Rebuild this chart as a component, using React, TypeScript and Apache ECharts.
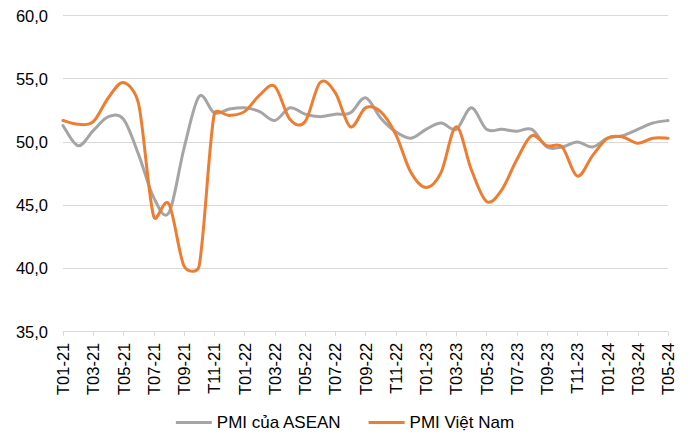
import React, { useEffect, useRef } from "react";
import * as echarts from "echarts";

const categories = [
  "T01-21","T02-21","T03-21","T04-21","T05-21","T06-21","T07-21","T08-21","T09-21","T10-21","T11-21","T12-21",
  "T01-22","T02-22","T03-22","T04-22","T05-22","T06-22","T07-22","T08-22","T09-22","T10-22","T11-22","T12-22",
  "T01-23","T02-23","T03-23","T04-23","T05-23","T06-23","T07-23","T08-23","T09-23","T10-23","T11-23","T12-23",
  "T01-24","T02-24","T03-24","T04-24","T05-24",
];

const aseanPMI = [
  51.3, 49.7, 50.9, 52.0, 51.8, 49.0, 45.6, 44.4, 49.5, 53.6, 52.3, 52.6,
  52.7, 52.4, 51.7, 52.7, 52.2, 52.0, 52.2, 52.3, 53.5, 51.9, 50.8, 50.3,
  51.0, 51.5, 51.0, 52.7, 51.0, 51.0, 50.85, 51.0, 49.6, 49.6, 50.0, 49.6,
  50.3, 50.5, 51.0, 51.5, 51.7,
];

const vietnamPMI = [
  51.7, 51.4, 51.6, 53.5, 54.7, 53.0, 44.1, 45.1, 40.2, 40.2, 52.2, 52.1,
  52.4, 53.7, 54.4, 51.8, 51.6, 54.7, 53.9, 51.2, 52.7, 52.4, 50.6, 47.6,
  46.4, 47.6, 51.2, 47.8, 45.3, 46.2, 48.6, 50.5, 49.7, 49.6, 47.3, 48.9,
  50.3, 50.4, 49.9, 50.3, 50.3,
];

const seriesNames = ["PMI của ASEAN", "PMI Việt Nam"];
const seriesColors = ["#A5A5A5", "#ED7D31"];

const FONT = "'Liberation Sans', Arial, sans-serif";

// Excel-like smoothing: Catmull-Rom handles (1/6 of neighbour chord),
// capped at half the segment length.
function handle(a: number[], b: number[], segLen: number) {
  let vx = (b[0] - a[0]) / 6;
  let vy = (b[1] - a[1]) / 6;
  const len = Math.hypot(vx, vy);
  const cap = segLen / 2;
  if (len > cap && len > 0) {
    vx = (vx * cap) / len;
    vy = (vy * cap) / len;
  }
  return [vx, vy];
}

function smoothPath(pts: number[][]): string {
  if (!pts.length) return "";
  let d = `M${pts[0][0]},${pts[0][1]}`;
  const n = pts.length;
  for (let i = 0; i < n - 1; i++) {
    const p0 = pts[i - 1] || pts[i];
    const p1 = pts[i];
    const p2 = pts[i + 1];
    const p3 = pts[i + 2] || pts[i + 1];
    const seg = Math.hypot(p2[0] - p1[0], p2[1] - p1[1]);
    const h1 = handle(p0, p2, seg);
    const h2 = handle(p1, p3, seg);
    d += ` C${p1[0] + h1[0]},${p1[1] + h1[1]} ${p2[0] - h2[0]},${p2[1] - h2[1]} ${p2[0]},${p2[1]}`;
  }
  return d;
}

function makeSeries(name: string, values: number[], color: string) {
  return {
    name,
    type: "custom",
    data: values.map((v, i) => [i, v]),
    encode: { x: 0, y: 1 },
    itemStyle: { color },
    renderItem: (params: any, api: any) => {
      if (params.dataIndex !== 0) return null;
      const pts = values.map((v, i) => api.coord([i, v]));
      return {
        type: "path",
        shape: { pathData: smoothPath(pts) },
        style: {
          stroke: color,
          lineWidth: 3,
          fill: null,
          lineJoin: "round",
          lineCap: "round",
        },
        silent: true,
      };
    },
  };
}

export default function App() {
  const ref = useRef<HTMLDivElement>(null);

  useEffect(() => {
    document.body.style.margin = "0";
    if (!ref.current) return;
    const chart = echarts.init(ref.current, undefined, { renderer: "svg" });
    chart.setOption({
      animation: false,
      backgroundColor: "#ffffff",
      textStyle: { fontFamily: FONT },
      grid: { left: 63, right: 22, top: 15.5, bottom: 103.3, containLabel: false },
      legend: {
        top: 414,
        left: "center",
        padding: 0,
        icon: "rect",
        itemWidth: 36,
        itemHeight: 3,
        itemGap: 27,
        textStyle: { fontFamily: FONT, fontSize: 17, color: "#000" },
        data: seriesNames,
      },
      xAxis: {
        type: "category",
        data: categories,
        boundaryGap: false,
        axisLine: { lineStyle: { color: "#D9D9D9", width: 1 } },
        axisTick: { show: true, interval: 1, length: 4, lineStyle: { color: "#D9D9D9" } },
        axisLabel: {
          interval: 1,
          rotate: 90,
          margin: 11,
          fontFamily: FONT,
          fontSize: 16.5,
          color: "#000",
        },
        splitLine: { show: false },
      },
      yAxis: {
        type: "value",
        min: 35,
        max: 60,
        interval: 5,
        axisLine: { show: false },
        axisTick: { show: false },
        axisLabel: {
          margin: 15,
          fontFamily: FONT,
          fontSize: 16.5,
          color: "#000",
          formatter: (v: number) => v.toFixed(1).replace(".", ","),
        },
        splitLine: { lineStyle: { color: "#D9D9D9", width: 1 } },
      },
      series: [
        makeSeries(seriesNames[0], aseanPMI, seriesColors[0]),
        makeSeries(seriesNames[1], vietnamPMI, seriesColors[1]),
      ],
    });
    return () => chart.dispose();
  }, []);

  return <div ref={ref} style={{ width: 690, height: 435 }} />;
}
